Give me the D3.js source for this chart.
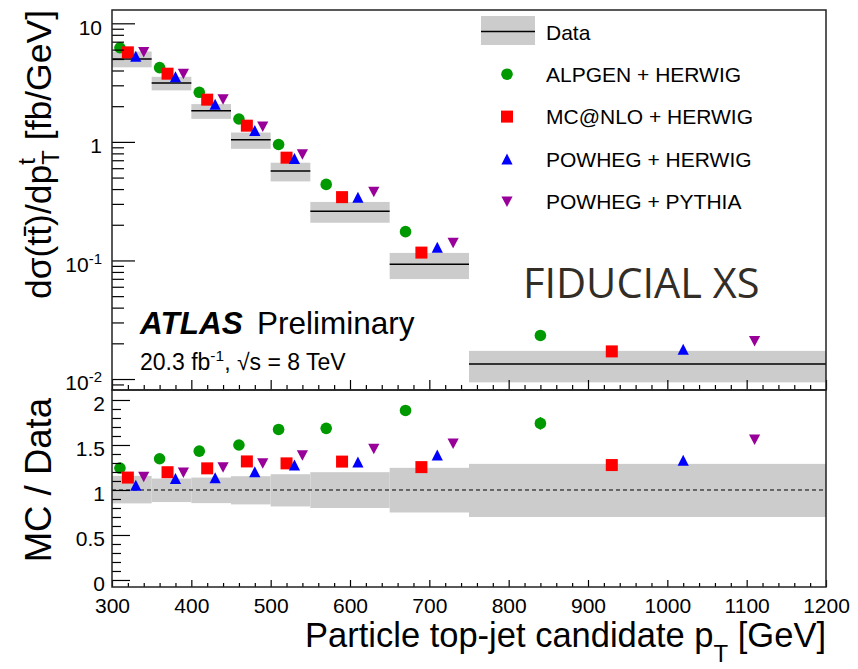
<!DOCTYPE html>
<html>
<head>
<meta charset="utf-8">
<script src="https://cdn.jsdelivr.net/npm/d3@7"></script>
<style>
body { margin: 0; background: #fff; }
svg { display: block; font-family: "Liberation Sans", Arial, sans-serif; }
</style>
</head>
<body>
<svg id="chart" width="858" height="669"></svg>
<script>

// bin edges [GeV]
var binEdges = [300, 350, 400, 450, 500, 550, 650, 750, 1200];

// data dσ/dpT [fb/GeV] and its relative uncertainty band
var dataXs = [5.0, 3.14, 1.83, 1.04, 0.568, 0.26, 0.0929, 0.01339];
var dataErrUp = [0.157, 0.127, 0.138, 0.153, 0.175, 0.198, 0.246, 0.29];
var dataErrDown = [0.149, 0.134, 0.146, 0.160, 0.183, 0.200, 0.250, 0.30];

// MC predictions [fb/GeV]
var alpgenHerwig = [6.22, 4.23, 2.62, 1.56, 0.950, 0.438, 0.175, 0.0233];
var mcatnloHerwig = [5.69, 3.76, 2.27, 1.37, 0.736, 0.342, 0.1165, 0.0171];
var powhegHerwig = [5.27, 3.54, 2.08, 1.25, 0.725, 0.341, 0.129, 0.0178];
var powhegPythia = [5.74, 3.75, 2.29, 1.35, 0.788, 0.379, 0.141, 0.0209];

// MC stat. error on the ratio
var alpgenErr = [0.01, 0.01, 0.01, 0.015, 0.02, 0.02, 0.03, 0.07];
var mcatnloErr = [0.01, 0.01, 0.01, 0.01, 0.015, 0.015, 0.02, 0.05];
var powhegHerwigErr = [0.01, 0.01, 0.01, 0.01, 0.015, 0.015, 0.02, 0.03];
var powhegPythiaErr = [0.01, 0.01, 0.01, 0.01, 0.015, 0.015, 0.02, 0.03];

var seriesNames = ["ALPGEN + HERWIG", "MC@NLO + HERWIG", "POWHEG + HERWIG", "POWHEG + PYTHIA"];

// ticks
var xTicks = [300, 400, 500, 600, 700, 800, 900, 1000, 1100, 1200];
var yTopTicks = [0.01, 0.1, 1, 10];
var ratioTicks = [0, 0.5, 1, 1.5, 2];

var series = [
	{ name: seriesNames[0], values: alpgenHerwig, err: alpgenErr, color: "#009a00", shape: "circle" },
	{ name: seriesNames[1], values: mcatnloHerwig, err: mcatnloErr, color: "#ff0000", shape: "square" },
	{ name: seriesNames[2], values: powhegHerwig, err: powhegHerwigErr, color: "#0000ff", shape: "up" },
	{ name: seriesNames[3], values: powhegPythia, err: powhegPythiaErr, color: "#990099", shape: "down" }
];

var bins = d3.range(dataXs.length).map(function(i){
	return { lo: binEdges[i], hi: binEdges[i + 1], v: dataXs[i], up: dataErrUp[i], dn: dataErrDown[i] };
});

// frame (window.top is reserved, so own names)
var frameL = 112, frameR = 826, frameT = 10, frameM = 390, frameB = 587;

var x = d3.scaleLinear().domain([300, 1200]).range([frameL, frameR]);
var yTop = d3.scaleLog().domain([0.00808, 12.95]).range([frameM, frameT]);
var yRat = d3.scaleLinear().domain([-0.078, 2.111]).range([frameB, frameM]);

var svg = d3.select("#chart");

// marker x position inside a bin
function markerX(b, k) {
	return x(b.lo + (b.hi - b.lo) * (k + 1) / 5);
}

function drawMarker(g, shape, color, cx, cy) {
	if (shape == "circle") {
		g.append("circle").attr("cx", cx).attr("cy", cy).attr("r", 5.8).attr("fill", color);
	} else if (shape == "square") {
		g.append("rect").attr("x", cx - 6).attr("y", cy - 6).attr("width", 12).attr("height", 12).attr("fill", color);
	} else if (shape == "up") {
		g.append("path").attr("d", "M0,-5.5L5.6,5.5L-5.6,5.5Z")
			.attr("transform", "translate(" + cx + "," + cy + ")").attr("fill", color);
	} else {
		g.append("path").attr("d", "M0,5.5L5.6,-5L-5.6,-5Z")
			.attr("transform", "translate(" + cx + "," + cy + ")").attr("fill", color);
	}
}

//----- upper panel -----
var upper = svg.append("g");

upper.selectAll("rect.band")
	.data(bins)
	.enter()
	.append("rect")
	.attr("x", function(d){ return x(d.lo); })
	.attr("width", function(d){ return x(d.hi) - x(d.lo); })
	.attr("y", function(d){ return yTop(d.v * (1 + d.up)); })
	.attr("height", function(d){ return yTop(d.v * (1 - d.dn)) - yTop(d.v * (1 + d.up)); })
	.attr("fill", "#cccccc");

upper.selectAll("line.data")
	.data(bins)
	.enter()
	.append("line")
	.attr("x1", function(d){ return x(d.lo); })
	.attr("x2", function(d){ return x(d.hi); })
	.attr("y1", function(d){ return yTop(d.v); })
	.attr("y2", function(d){ return yTop(d.v); })
	.attr("stroke", "#000")
	.attr("stroke-width", 1.5);

series.forEach(function(s, k){
	bins.forEach(function(b, i){
		drawMarker(upper, s.shape, s.color, markerX(b, k), yTop(s.values[i]));
	});
});

//----- ratio panel -----
var lower = svg.append("g");

lower.selectAll("rect.band")
	.data(bins)
	.enter()
	.append("rect")
	.attr("x", function(d){ return x(d.lo); })
	.attr("width", function(d){ return x(d.hi) - x(d.lo); })
	.attr("y", function(d){ return yRat(1 + d.up); })
	.attr("height", function(d){ return yRat(1 - d.dn) - yRat(1 + d.up); })
	.attr("fill", "#cccccc");

lower.append("line")
	.attr("x1", frameL).attr("x2", frameR)
	.attr("y1", yRat(1)).attr("y2", yRat(1))
	.attr("stroke", "#000").attr("stroke-width", 1)
	.attr("stroke-dasharray", "4,3");

series.forEach(function(s, k){
	bins.forEach(function(b, i){
		var r = s.values[i] / b.v;
		var cx = markerX(b, k);
		lower.append("line")
			.attr("x1", cx).attr("x2", cx)
			.attr("y1", yRat(r - s.err[i])).attr("y2", yRat(r + s.err[i]))
			.attr("stroke", s.color).attr("stroke-width", 1.5);
		drawMarker(lower, s.shape, s.color, cx, yRat(r));
	});
});

//----- axes -----
var minorX = d3.range(300, 1201, 20).filter(function(v){ return v % 100 != 0; });
var minorLog = [];
[-3, -2, -1, 0, 1].forEach(function(e){
	for (var m = 2; m <= 9; m++) {
		var v = m * Math.pow(10, e);
		if (v > 0.00808 && v < 12.95) minorLog.push(v);
	}
});
var minorRat = d3.range(0, 21).map(function(i){ return i / 10; }).filter(function(v){ return ratioTicks.indexOf(v) < 0; });

function styleAxis(g) {
	g.select(".domain").remove();
	g.selectAll(".tick line").attr("stroke", "#000").attr("stroke-width", 1.2);
	g.selectAll(".tick text").attr("font-size", "21px").attr("fill", "#000")
		.attr("font-family", "'Liberation Sans', Arial, sans-serif");
}

// upper y
var gyTop = svg.append("g").attr("transform", "translate(" + frameL + ",0)")
	.call(d3.axisLeft(yTop).tickValues(yTopTicks).tickSizeInner(-23).tickSizeOuter(0).tickPadding(10)
		.tickFormat(function(d){ return d >= 1 ? String(d) : "10"; }));
styleAxis(gyTop);
gyTop.selectAll(".tick text").attr("dy", "0.52em").each(function(d){
	if (d < 1) {
		d3.select(this).append("tspan").attr("dy", "-8").attr("font-size", "15px")
			.text(String(Math.round(Math.log10(d))));
	}
});
svg.append("g").attr("transform", "translate(" + frameL + ",0)")
	.call(d3.axisLeft(yTop).tickValues(minorLog).tickSize(-12).tickFormat(""))
	.call(styleAxis);

// upper x (no labels)
svg.append("g").attr("transform", "translate(0," + frameM + ")")
	.call(d3.axisBottom(x).tickValues(xTicks).tickSize(-10).tickFormat(""))
	.call(styleAxis);
svg.append("g").attr("transform", "translate(0," + frameM + ")")
	.call(d3.axisBottom(x).tickValues(minorX).tickSize(-5).tickFormat(""))
	.call(styleAxis);

// ratio y
var gyRat = svg.append("g").attr("transform", "translate(" + frameL + ",0)")
	.call(d3.axisLeft(yRat).tickValues(ratioTicks).tickSizeInner(-18).tickSizeOuter(0).tickPadding(7)
		.tickFormat(function(d){ return String(d); }));
styleAxis(gyRat);
gyRat.selectAll(".tick text").attr("dy", "0.52em");
svg.append("g").attr("transform", "translate(" + frameL + ",0)")
	.call(d3.axisLeft(yRat).tickValues(minorRat).tickSize(-9).tickFormat(""))
	.call(styleAxis);

// ratio x
var gx = svg.append("g").attr("transform", "translate(0," + frameB + ")")
	.call(d3.axisBottom(x).tickValues(xTicks).tickSizeInner(-7).tickSizeOuter(0).tickPadding(11)
		.tickFormat(function(d){ return String(d); }));
styleAxis(gx);
svg.append("g").attr("transform", "translate(0," + frameB + ")")
	.call(d3.axisBottom(x).tickValues(minorX).tickSize(-4).tickFormat(""))
	.call(styleAxis);

// frames
svg.append("rect").attr("x", frameL).attr("y", frameT).attr("width", frameR - frameL).attr("height", frameM - frameT)
	.attr("fill", "none").attr("stroke", "#222").attr("stroke-width", 1.5);
svg.append("rect").attr("x", frameL).attr("y", frameM).attr("width", frameR - frameL).attr("height", frameB - frameM)
	.attr("fill", "none").attr("stroke", "#222").attr("stroke-width", 1.5);

//----- titles -----
var xTitle = svg.append("text")
	.attr("x", frameR).attr("y", 647)
	.attr("text-anchor", "end").attr("font-size", "34.5px");
xTitle.append("tspan").text("Particle top-jet candidate p");
xTitle.append("tspan").attr("dy", 15).attr("font-size", "24px").text("T");
xTitle.append("tspan").attr("dy", -15).text(" [GeV]");

var yTitle = svg.append("text")
	.attr("transform", "translate(51," + frameT + ") rotate(-90)")
	.attr("text-anchor", "end").attr("font-size", "35.5px");
yTitle.append("tspan").text("d\u03c3(tt\u0304)/dp");
yTitle.append("tspan").attr("dy", -16).attr("font-size", "24px").text("t");
yTitle.append("tspan").attr("dx", -6.7).attr("dy", 24).attr("font-size", "24px").text("T");
yTitle.append("tspan").attr("dy", -8).text(" [fb/GeV]");

svg.append("text")
	.attr("transform", "translate(51," + (frameM + 8) + ") rotate(-90)")
	.attr("text-anchor", "end").attr("font-size", "36.5px")
	.text("MC / Data");

//----- labels -----
svg.append("text").attr("x", 140).attr("y", 334)
	.attr("font-size", "31.5px").attr("font-weight", "bold").attr("font-style", "italic")
	.text("ATLAS");
svg.append("text").attr("x", 257).attr("y", 334).attr("font-size", "31.5px").text("Preliminary");

var lumi = svg.append("text").attr("x", 140).attr("y", 370).attr("font-size", "23px");
lumi.append("tspan").text("20.3 fb");
lumi.append("tspan").attr("dy", -9).attr("font-size", "15.5px").text("-1");
lumi.append("tspan").attr("dy", 9).text(", \u221as = 8 TeV");

svg.append("text").attr("x", 523).attr("y", 298)
	.attr("font-family", "'Open Sans', sans-serif").attr("font-size", "41.5px")
	.attr("fill", "#322e27")
	.text("FIDUCIAL XS");

//----- legend -----
var legend = svg.append("g");
legend.append("rect").attr("x", 481).attr("y", 16).attr("width", 54).attr("height", 29).attr("fill", "#cccccc");
legend.append("line").attr("x1", 481).attr("x2", 535).attr("y1", 31.5).attr("y2", 31.5)
	.attr("stroke", "#000").attr("stroke-width", 1.5);
legend.append("text").attr("x", 546).attr("y", 39.5).attr("font-size", "21px").text("Data");

series.forEach(function(s, k){
	var cy = 74.2 + k * 42.4;
	drawMarker(legend, s.shape, s.color, 507, cy);
	legend.append("text").attr("x", 546).attr("y", cy + 7.7).attr("font-size", "21px").text(s.name);
});

</script>
</body>
</html>
